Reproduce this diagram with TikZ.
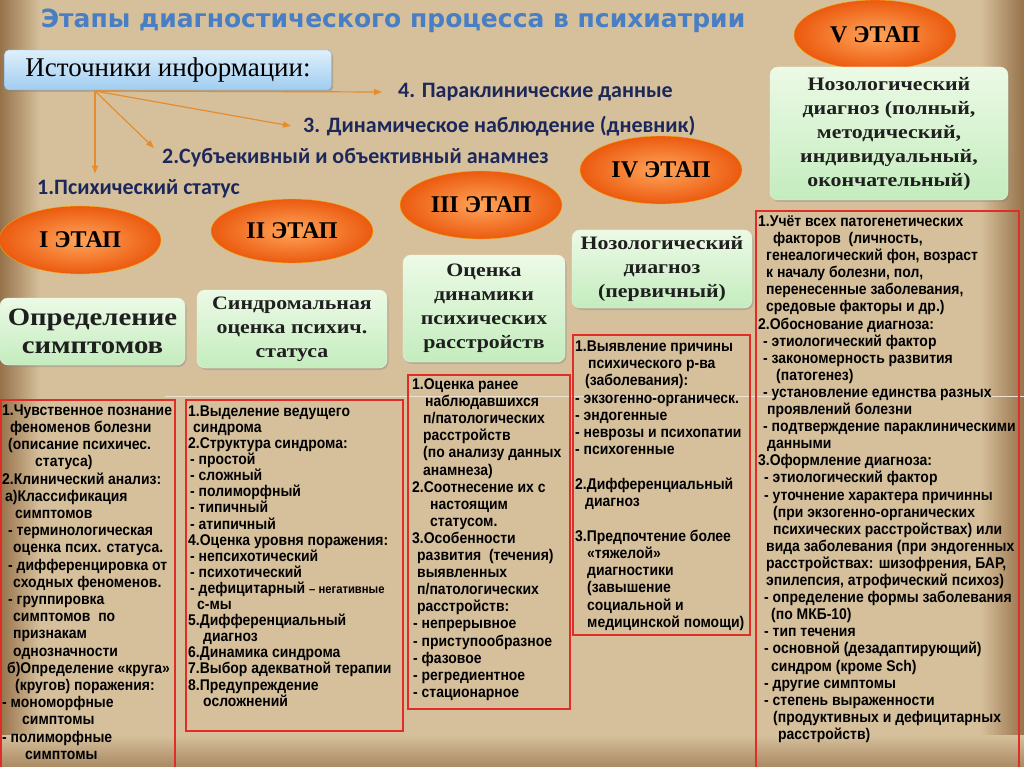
\documentclass[tikz,border=0pt]{standalone}
\usepackage{fontspec}
\setmainfont{Liberation Serif}
\newfontfamily\notefont[FakeStretch=0.9]{Liberation Sans}
\newfontfamily\itemfont{Carlito}
\newfontfamily\titlefont{DejaVu Sans}
\newfontfamily\boxfont[FakeStretch=1.15]{Liberation Serif}
\usetikzlibrary{arrows.meta,shadows,shapes.geometric}

\definecolor{paper}{RGB}{214,192,156}
\definecolor{paperdark}{RGB}{150,114,74}
\definecolor{titleblue}{RGB}{72,126,196}
\definecolor{navy}{RGB}{28,40,90}
\definecolor{arrowor}{RGB}{230,140,45}
\definecolor{stagein}{RGB}{255,165,90}
\definecolor{stageout}{RGB}{235,90,15}
\definecolor{boxtop}{RGB}{236,250,230}
\definecolor{boxbot}{RGB}{196,236,190}
\definecolor{srctop}{RGB}{222,240,252}
\definecolor{srcbot}{RGB}{160,205,240}
\definecolor{noteline}{RGB}{225,45,40}

\newcommand\pad[1]{\hspace*{#1pt}}
\newcommand\notesize[1]{\notefont\bfseries\fontsize{15.5}{#1}\selectfont}

\begin{document}
\begin{tikzpicture}[x=1pt,y=-1pt]
  \tikzstyle{stage}=[ellipse,draw=stageout!50!yellow,inner color=stagein,outer color=stageout,minimum width=162pt,minimum height=68pt,font=\bfseries\fontsize{24}{24}\selectfont]
  \tikzstyle{stepbox}=[rounded corners=8pt,draw=white!60!boxbot,top color=boxtop,bottom color=boxbot,drop shadow={shadow xshift=1.5pt,shadow yshift=-2pt,opacity=0.35},align=center,text=black!88,font=\boxfont\bfseries\fontsize{19}{24}\selectfont]
  \tikzstyle{srcbox}=[rounded corners=4pt,draw=srcbot!80!black,top color=srctop,bottom color=srcbot,drop shadow={shadow xshift=1.5pt,shadow yshift=-2pt,opacity=0.4},font=\fontsize{27}{27}\selectfont]
  \tikzstyle{source}=[anchor=west,inner sep=0pt,text=navy,font=\itemfont\bfseries\fontsize{22}{22}\selectfont]
  \tikzstyle{src}=[draw=arrowor,line width=1.2pt,-{Triangle[length=8pt,width=6pt]}]
  \tikzstyle{notes}=[anchor=north west,inner sep=0pt,align=left,font=\notesize{17.2}]
  \tikzstyle{noteframe}=[draw=noteline,line width=1.2pt]

  \useasboundingbox (0,0) rectangle (1024,767);
  % paper
  \fill[paper] (0,0) rectangle (1024,767);
  \fill[left color=paperdark,right color=paper] (0,0) rectangle (40,767);
  \fill[left color=paper,right color=paperdark] (980,0) rectangle (1024,767);
  \fill[top color=paper,bottom color=paperdark!70!paper] (0,735) rectangle (1024,767);
  \draw[white!55!paper,line width=0.8pt] (165,396) -- (1024,396);

  \node[text=titleblue,font=\titlefont\bfseries\fontsize{25}{25}\selectfont] (T) at (393,21) {Этапы диагностического процесса в психиатрии};

  % sources
  \node[srcbox,minimum width=327pt,minimum height=40pt] (S) at (168,70) {Источники информации:};
  \node[source] (S4) at (398,92)  {4. Параклинические данные};
  \node[source] (S3) at (303,126) {3. Динамическое наблюдение (дневник)};
  \node[source] (S2) at (162,158) {2.Субъекивный и объективный анамнез};
  \node[source] (S1) at (37,189)  {1.Психический статус};
  \coordinate (S0) at (95,91);

  \draw[src] (S0) -- ([xshift=-16pt]S4.west);
  \draw[src] (S0) -- ([xshift=-12pt]S3.west);
  \draw[src] (S0) -- ([shift={(-8,-10)}]S2.west);
  \draw[src,shorten >=6pt] (S0) -- (S0 |- S1.north);

  % stages
  \node[stage] (E1) at (80,240)  {I ЭТАП};
  \node[stage,minimum height=64pt] (E2) at (292,231) {II ЭТАП};
  \node[stage] (E3) at (481,205) {III ЭТАП};
  \node[stage] (E4) at (661,170) {IV ЭТАП};
  \node[stage,minimum height=70pt] (E5) at (875,35)  {V ЭТАП};

  % results of the stages
  \node[stepbox,minimum width=185pt,minimum height=67pt,font=\boxfont\bfseries\fontsize{25}{28}\selectfont] (B1) at (92.5,331.5) {Определение\\симптомов};
  \node[stepbox,minimum width=190pt,minimum height=78pt] (B2) at (292,329) {Синдромальная\\оценка психич.\\статуса};
  \node[stepbox,minimum width=162pt,minimum height=107pt] (B3) at (484,308.5) {Оценка\\динамики\\психических\\расстройств};
  \node[stepbox,minimum width=180pt,minimum height=78pt] (B4) at (662,269) {Нозологический\\диагноз\\(первичный)};
  \node[stepbox,minimum width=238pt,minimum height=133pt] (B5) at (889,133.5) {Нозологический\\диагноз (полный,\\методический,\\индивидуальный,\\окончательный)};

  % notes
  \draw[noteframe] (1,400) rectangle (175,775);
  \draw[noteframe] (186,400) rectangle (403,731);
  \draw[noteframe] (408,375) rectangle (570,709);
  \draw[noteframe] (573,335) rectangle (750,635);
  \draw[noteframe] (756,211) rectangle (1019,775);

  \node[notes] (N1) at (2,404.5) {1.Чувственное познание\\
    \pad{8}феноменов болезни\\
    \pad{6}(описание психичес.\\
    \pad{33}статуса)\\
    2.Клинический анализ:\\
    \pad{3}а)Классификация\\
    \pad{13}симптомов\\
    \pad{6}- терминологическая\\
    \pad{11}оценка псих. статуса.\\
    \pad{6}- дифференцировка от\\
    \pad{11}сходных феноменов.\\
    \pad{6}- группировка\\
    \pad{11}симптомов\ \ по\\
    \pad{11}признакам\\
    \pad{11}однозначности\\
    \pad{5}б)Определение «круга»\\
    \pad{13}(кругов) поражения:\\
    - мономорфные\\
    \pad{20}симптомы\\
    - полиморфные\\
    \pad{23}симптомы};

  \node[notes,font=\notesize{16.1}] (N2) at (188,405.5) {1.Выделение ведущего\\
    \pad{5}синдрома\\
    2.Структура синдрома:\\
    \pad{2}- простой\\
    \pad{2}- сложный\\
    \pad{2}- полиморфный\\
    \pad{2}- типичный\\
    \pad{2}- атипичный\\
    4.Оценка уровня поражения:\\
    \pad{2}- непсихотический\\
    \pad{2}- психотический\\
    \pad{2}- дефицитарный {\fontsize{12.5}{12}\selectfont – негативные}\\
    \pad{9}с-мы\\
    5.Дифференциальный\\
    \pad{15}диагноз\\
    6.Динамика синдрома\\
    7.Выбор адекватной терапии\\
    8.Предупреждение\\
    \pad{15}осложнений};

  \node[notes,font=\notesize{17.1}] (N3) at (412,378.5) {1.Оценка ранее\\
    \pad{13}наблюдавшихся\\
    \pad{11}п/патологических\\
    \pad{11}расстройств\\
    \pad{11}(по анализу данных\\
    \pad{11}анамнеза)\\
    2.Соотнесение их с\\
    \pad{18}настоящим\\
    \pad{18}статусом.\\
    3.Особенности\\
    \pad{5}развития\ \ (течения)\\
    \pad{5}выявленных\\
    \pad{5}п/патологических\\
    \pad{5}расстройств:\\
    \pad{1}- непрерывное\\
    \pad{1}- приступообразное\\
    \pad{1}- фазовое\\
    \pad{1}- регредиентное\\
    \pad{1}- стационарное};

  \node[notes,font=\notesize{17.25}] (N4) at (575,340.5) {1.Выявление причины\\
    \pad{13}психического р-ва\\
    \pad{10}(заболевания):\\
    - экзогенно-органическ.\\
    - эндогенные\\
    - неврозы и психопатии\\
    - психогенные\\[17.25pt]
    2.Дифференциальный\\
    \pad{10}диагноз\\[17.25pt]
    3.Предпочтение более\\
    \pad{12}«тяжелой»\\
    \pad{12}диагностики\\
    \pad{12}(завышение\\
    \pad{12}социальной и\\
    \pad{12}медицинской помощи)};

  \node[notes,font=\notesize{17.1}] (N5) at (758,215.5) {1.Учёт всех патогенетических\\
    \pad{15}факторов\ \ (личность,\\
    \pad{8}генеалогический фон, возраст\\
    \pad{8}к началу болезни, пол,\\
    \pad{8}перенесенные заболевания,\\
    \pad{8}средовые факторы и др.)\\
    2.Обоснование диагноза:\\
    \pad{5}- этиологический фактор\\
    \pad{5}- закономерность развития\\
    \pad{18}(патогенез)\\
    \pad{5}- установление единства разных\\
    \pad{9}проявлений болезни\\
    \pad{5}- подтверждение параклиническими\\
    \pad{9}данными\\
    3.Оформление диагноза:\\
    \pad{6}- этиологический фактор\\
    \pad{6}- уточнение характера причинны\\
    \pad{15}(при экзогенно-органических\\
    \pad{15}психических расстройствах) или\\
    \pad{8}вида заболевания (при эндогенных\\
    \pad{8}расстройствах: шизофрения, БАР,\\
    \pad{8}эпилепсия, атрофический психоз)\\
    \pad{6}- определение формы заболевания\\
    \pad{13}(по МКБ-10)\\
    \pad{6}- тип течения\\
    \pad{6}- основной (дезадаптирующий)\\
    \pad{13}синдром (кроме Sch)\\
    \pad{6}- другие симптомы\\
    \pad{6}- степень выраженности\\
    \pad{15}(продуктивных и дефицитарных\\
    \pad{20}расстройств)};
\end{tikzpicture}
\end{document}
